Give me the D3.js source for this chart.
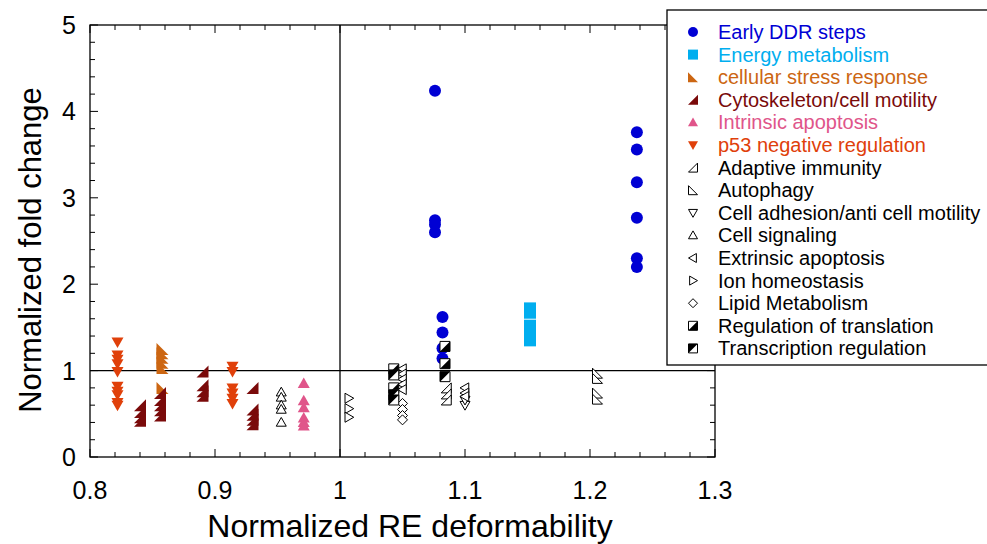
<!DOCTYPE html>
<html>
<head>
<meta charset="utf-8">
<script src="https://cdn.jsdelivr.net/npm/d3@7"></script>
<style>
  body { margin: 0; background: #fff; }
  text { font-family: "Liberation Sans", Arial, sans-serif; }
</style>
</head>
<body>
<div id="container"></div>
<script>
    // chart size
    const width = 987;
    const height = 544;

    // series names, colours and marker kinds (legend order)
    const categories = [
        "Early DDR steps", "Energy metabolism", "cellular stress response",
        "Cytoskeleton/cell motility", "Intrinsic apoptosis", "p53 negative regulation",
        "Adaptive immunity", "Autophagy", "Cell adhesion/anti cell motility",
        "Cell signaling", "Extrinsic apoptosis", "Ion homeostasis",
        "Lipid Metabolism", "Regulation of translation", "Transcription regulation"
    ];
    const colors = [
        "#0000d4", "#00aeef", "#cc6612", "#7a0a0a", "#e0558a", "#e0400a",
        "#000", "#000", "#000", "#000", "#000", "#000", "#000", "#000", "#000"
    ];
    const shapes = [
        "circle", "square", "rtBL", "rtBR", "up", "down",
        "rtBRo", "rtBLo", "downo", "upo", "lefto", "righto",
        "diamondo", "halfBR", "halfBL"
    ];

    // values [deformability, fold change] per category
    const earlyDDR = [[1.076, 4.24], [1.076, 2.74], [1.076, 2.69], [1.076, 2.6],
        [1.082, 1.62], [1.082, 1.44], [1.082, 1.26], [1.082, 1.14],
        [1.2375, 3.76], [1.2375, 3.56], [1.2375, 3.18], [1.2375, 2.77], [1.2375, 2.3], [1.2375, 2.2]];
    const energyMetabolism = [[1.152, 1.72], [1.152, 1.67], [1.152, 1.52], [1.152, 1.45], [1.152, 1.4], [1.152, 1.35]];
    const cellularStress = [[0.858, 1.25], [0.858, 1.2], [0.858, 1.15], [0.858, 1.09], [0.858, 1.03], [0.858, 0.8]];
    const cytoskeleton = [[0.84, 0.6], [0.84, 0.52], [0.84, 0.46], [0.84, 0.42],
        [0.856, 0.74], [0.856, 0.66], [0.856, 0.6], [0.856, 0.54], [0.856, 0.48],
        [0.89, 0.99], [0.89, 0.83], [0.89, 0.76], [0.89, 0.71],
        [0.93, 0.8], [0.93, 0.55], [0.93, 0.49], [0.93, 0.43], [0.93, 0.38]];
    const intrinsicApoptosis = [[0.971, 0.85], [0.971, 0.65], [0.971, 0.57], [0.971, 0.45], [0.971, 0.4], [0.971, 0.36]];
    const p53Negative = [[0.822, 1.33], [0.822, 1.18], [0.822, 1.13], [0.822, 1.08], [0.822, 0.99],
        [0.822, 0.82], [0.822, 0.76], [0.822, 0.72], [0.822, 0.63], [0.822, 0.6],
        [0.914, 1.05], [0.914, 0.99], [0.914, 0.8], [0.914, 0.74], [0.914, 0.68], [0.914, 0.62]];
    const adaptiveImmunity = [[1.085, 0.8], [1.085, 0.73], [1.085, 0.66]];
    const autophagy = [[1.206, 0.97], [1.206, 0.91], [1.206, 0.74], [1.206, 0.67]];
    const cellAdhesion = [[1.1, 0.6], [1.1, 0.66]];
    const cellSignaling = [[0.953, 0.75], [0.953, 0.69], [0.953, 0.6], [0.953, 0.55], [0.953, 0.4]];
    const extrinsicApoptosis = [[1.05, 1.02], [1.05, 0.96], [1.05, 0.9], [1.05, 0.84], [1.05, 0.78],
        [1.1, 0.8], [1.1, 0.74], [1.1, 0.7]];
    const ionHomeostasis = [[1.007, 0.68], [1.007, 0.56], [1.007, 0.46]];
    const lipidMetabolism = [[1.05, 0.62], [1.05, 0.55], [1.05, 0.48], [1.05, 0.43]];
    const regTranslation = [[1.043, 1.02], [1.043, 0.8], [1.084, 1.28], [1.084, 1.08]];
    const transcriptionReg = [[1.043, 0.95], [1.043, 0.72], [1.043, 0.66], [1.084, 0.93]];

    const seriesData = [earlyDDR, energyMetabolism, cellularStress, cytoskeleton, intrinsicApoptosis,
        p53Negative, adaptiveImmunity, autophagy, cellAdhesion, cellSignaling, extrinsicApoptosis,
        ionHomeostasis, lipidMetabolism, regTranslation, transcriptionReg];

    const xTicks = [0.8, 0.9, 1, 1.1, 1.2, 1.3];
    const yTicks = [0, 1, 2, 3, 4, 5];

    const x = d3.scaleLinear().domain([0.8, 1.3]).range([90, 715]);
    const y = d3.scaleLinear().domain([0, 5]).range([457, 25]);

    // marker path for a kind, s = half size
    function markerPath(kind, s) {
        const k = kind.replace(/o$/, "");
        if (k === "square" || k === "halfBR" || k === "halfBL")
            return `M${-s},${-s}H${s}V${s}H${-s}Z`;
        if (k === "up") return `M0,${-s}L${s},${s * 0.75}L${-s},${s * 0.75}Z`;
        if (k === "down") return `M0,${s}L${s},${-s * 0.75}L${-s},${-s * 0.75}Z`;
        if (k === "left") return `M${-s},0L${s * 0.75},${-s}L${s * 0.75},${s}Z`;
        if (k === "right") return `M${s},0L${-s * 0.75},${-s}L${-s * 0.75},${s}Z`;
        if (k === "rtBL") return `M${-s},${-s}L${-s},${s}L${s},${s}Z`;
        if (k === "rtBR") return `M${s},${-s}L${s},${s}L${-s},${s}Z`;
        if (k === "diamond") return `M0,${-s}L${s},0L0,${s}L${-s},0Z`;
        return "";
    }

    function drawMarker(g, kind, color, cx, cy, s) {
        const open = kind.endsWith("o") && kind !== "halfBR" || kind.startsWith("half");
        if (kind === "circle") {
            g.append("circle").attr("cx", cx).attr("cy", cy).attr("r", s)
                .attr("fill", color);
            return;
        }
        g.append("path")
            .attr("transform", `translate(${cx},${cy})`)
            .attr("d", markerPath(kind, s))
            .attr("fill", open ? "#fff" : color)
            .attr("stroke", open ? color : "none")
            .attr("stroke-width", 1);
        if (kind === "halfBR") {
            g.append("path").attr("transform", `translate(${cx},${cy})`)
                .attr("d", `M${-s},${s}L${s},${-s}L${s},${s}Z`).attr("fill", color);
        }
        if (kind === "halfBL") {
            g.append("path").attr("transform", `translate(${cx},${cy})`)
                .attr("d", `M${-s},${-s}L${-s},${s}L${s},${-s}Z`).attr("fill", color);
        }
    }

    const svg = d3.create("svg")
        .attr("width", width)
        .attr("height", height);

    // plot frame
    svg.append("rect")
        .attr("x", x(0.8)).attr("y", y(5))
        .attr("width", x(1.3) - x(0.8)).attr("height", y(0) - y(5))
        .attr("fill", "none").attr("stroke", "#000").attr("stroke-width", 1.3);

    // ticks, inward on all sides
    const xMinor = d3.range(0, 26).map(i => 0.8 + i * 0.02);
    const yMinor = d3.range(0, 26).map(i => i * 0.2);
    xMinor.forEach((v, i) => {
        const len = i % 5 === 0 ? 8 : 5;
        svg.append("line").attr("x1", x(v)).attr("x2", x(v))
            .attr("y1", y(0)).attr("y2", y(0) - len).attr("stroke", "#000");
        svg.append("line").attr("x1", x(v)).attr("x2", x(v))
            .attr("y1", y(5)).attr("y2", y(5) + len).attr("stroke", "#000");
    });
    yMinor.forEach((v, i) => {
        const len = i % 5 === 0 ? 8 : 5;
        svg.append("line").attr("y1", y(v)).attr("y2", y(v))
            .attr("x1", x(0.8)).attr("x2", x(0.8) + len).attr("stroke", "#000");
        svg.append("line").attr("y1", y(v)).attr("y2", y(v))
            .attr("x1", x(1.3)).attr("x2", x(1.3) - len).attr("stroke", "#000");
    });

    // tick labels
    svg.append("g").selectAll("text").data(xTicks).join("text")
        .attr("x", d => x(d)).attr("y", 499)
        .attr("text-anchor", "middle").attr("font-size", 25)
        .text(d => d);
    svg.append("g").selectAll("text").data(yTicks).join("text")
        .attr("x", 76).attr("y", d => y(d) + 9)
        .attr("text-anchor", "end").attr("font-size", 25)
        .text(d => d);

    // reference lines at x = 1 and y = 1
    svg.append("line").attr("x1", x(1)).attr("x2", x(1))
        .attr("y1", y(0)).attr("y2", y(5)).attr("stroke", "#000").attr("stroke-width", 1.3);
    svg.append("line").attr("x1", x(0.8)).attr("x2", x(1.3))
        .attr("y1", y(1)).attr("y2", y(1)).attr("stroke", "#000").attr("stroke-width", 1.3);

    // axis titles
    svg.append("text").attr("x", 410).attr("y", 537)
        .attr("text-anchor", "middle").attr("font-size", 32)
        .text("Normalized RE deformability");
    svg.append("text")
        .attr("transform", "translate(41,250) rotate(-90)")
        .attr("text-anchor", "middle").attr("font-size", 31)
        .text("Normalized fold change");

    // points
    const pts = svg.append("g");
    seriesData.forEach((data, i) => {
        const kind = shapes[i];
        const s = i < 6 ? 6 : 5;
        data.forEach(d => drawMarker(pts, kind, colors[i], x(d[0]), y(d[1]), s));
    });

    // legend
    const lg = svg.append("g");
    lg.append("rect").attr("x", 667).attr("y", 10).attr("width", 330).attr("height", 355)
        .attr("fill", "#fff").attr("stroke", "#000").attr("stroke-width", 1.3);
    categories.forEach((name, i) => {
        const cy = 32 + i * 22.6;
        drawMarker(lg, shapes[i], colors[i], 693, cy, i < 6 ? 5 : 4.5);
        lg.append("text").attr("x", 718).attr("y", cy + 7)
            .attr("font-size", 20).attr("fill", colors[i]).text(name);
    });

    container.append(svg.node());
</script>
</body>
</html>
